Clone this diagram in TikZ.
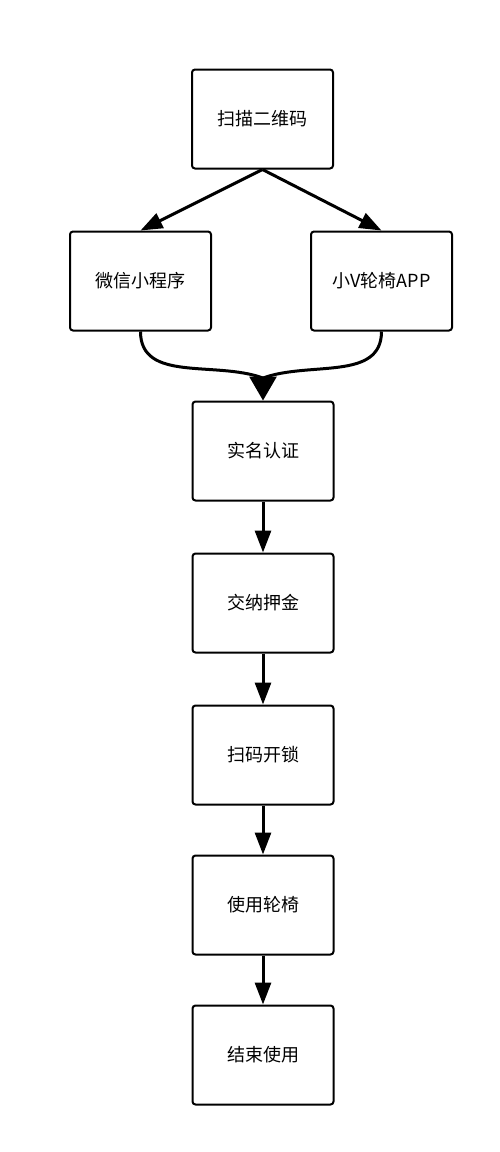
\documentclass[tikz,border=0pt]{standalone}
\usepackage{fontspec}
\newfontfamily\cjk{Noto Sans CJK SC}
\usetikzlibrary{arrows.meta}
\tikzset{
	box/.style = {draw, line width=2pt, rounded corners=3pt, minimum width=141pt, minimum height=99pt, inner sep=0pt, font=\cjk\fontsize{18}{20}\selectfont},
	flow/.style = {line width=3pt, -{Triangle[length=22pt,width=16pt]}}
}
\begin{document}
\begin{tikzpicture}[x=1pt,y=1pt]
			\useasboundingbox (0,0) rectangle (500,-1152);
			\node[box] (scan) at (262.5,-119) {扫描二维码};
			\node[box] (wechat) at (140.5,-281) {微信小程序};
			\node[box] (app) at (381.5,-281) {小V轮椅APP};
			\node[box] (auth) at (263,-451) {实名认证};
			\node[box] (deposit) at (263,-603) {交纳押金};
			\node[box] (unlock) at (263,-755) {扫码开锁};
			\node[box] (ride) at (263,-905) {使用轮椅};
			\node[box] (finish) at (263,-1055) {结束使用};
			\coordinate (merge) at (263,-378);
			\draw[flow] (scan.south) -- (wechat.north);
			\draw[flow] (scan.south) -- (app.north);
			\draw[line width=3pt] (wechat.south) to[out=-90, in=160] (merge);
			\draw[line width=3pt] (app.south) to[out=-90, in=20] (merge);
			\draw[line width=3pt, -{Triangle[length=24pt,width=27pt]}] (merge) -- (auth.north);
			\draw[flow] (auth) -- (deposit);
			\draw[flow] (deposit) -- (unlock);
			\draw[flow] (unlock) -- (ride);
			\draw[flow] (ride) -- (finish);
		\end{tikzpicture}
\end{document}
